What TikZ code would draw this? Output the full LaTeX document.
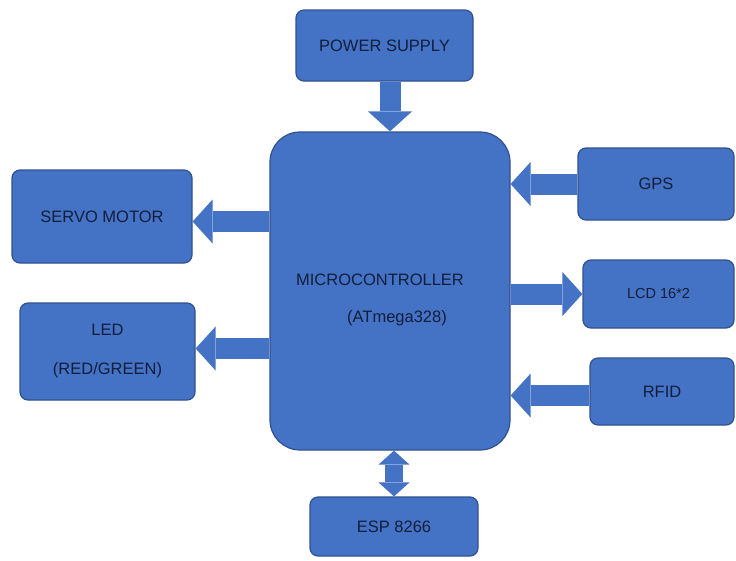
\documentclass[tikz,border=0pt]{standalone}
\usepackage{fontspec}
\setmainfont{Liberation Sans}
\usetikzlibrary{arrows.meta}
\definecolor{blockblue}{RGB}{68,114,196}
\definecolor{blockedge}{RGB}{47,82,143}
\definecolor{blocktext}{RGB}{18,30,60}
\tikzset{
  block/.style={draw=blockedge, line width=1.2pt, fill=blockblue, rounded corners=8pt,
    text=blocktext, font=\fontsize{16.5}{19}\selectfont, align=center, inner sep=0pt},
  caption/.style={text=blocktext, font=\fontsize{16.5}{19}\selectfont, inner sep=0pt},
  small/.style={font=\fontsize{14.5}{17}\selectfont},
  flow/.style={draw=blockblue, line width=21pt,
    -{Triangle[length=20pt,width=44pt,line width=0pt]}},
  flowboth/.style={draw=blockblue, line width=18pt,
    {Triangle[length=14pt,width=31pt,line width=0pt]}-{Triangle[length=14pt,width=31pt,line width=0pt]}},
}
\begin{document}
\begin{tikzpicture}[x=1pt,y=-1pt]
\useasboundingbox (0,0) rectangle (736,560);
% blocks
\node[block, minimum width=177pt, minimum height=71pt] (power) at (384.5,45.5) {POWER SUPPLY};
\node[block, minimum width=240pt, minimum height=318pt, rounded corners=30pt] (mc) at (390,291) {};
\node[caption] (mctitle) at (380,280) {MICROCONTROLLER};
\node[caption] (mcchip) at (397,318) {(ATmega328)};
\node[block, minimum width=180pt, minimum height=93pt] (servo) at (102,216.5) {SERVO MOTOR};
\node[block, minimum width=175pt, minimum height=97pt] (led) at (107.5,351.5) {LED\\[20pt](RED/GREEN)};
\node[block, minimum width=156pt, minimum height=72pt] (gps) at (656,184) {GPS};
\node[block, small, minimum width=151pt, minimum height=68pt] (lcd) at (658.5,294) {LCD 16*2};
\node[block, minimum width=144pt, minimum height=67pt] (rfid) at (662,391.5) {RFID};
\node[block, minimum width=168pt, minimum height=59pt] (esp) at (394,526.5) {ESP 8266};
% arrows
\draw[flow] (power.south -| mc.north) -- (mc.north);
\draw[flow] ([yshift=-5pt]mc.west |- servo.east) -- ([yshift=-5pt]servo.east);
\draw[flow] ([yshift=3pt]mc.west |- led.east) -- ([yshift=3pt]led.east);
\draw[flow] (gps.west) -- (mc.east |- gps.west);
\draw[flow] (mc.east |- lcd.west) -- (lcd.west);
\draw[flow] ([yshift=-4pt]rfid.west) -- ([yshift=-4pt]mc.east |- rfid.west);
\draw[flowboth] (mc.south -| esp.north) -- (esp.north);
\end{tikzpicture}
\end{document}
